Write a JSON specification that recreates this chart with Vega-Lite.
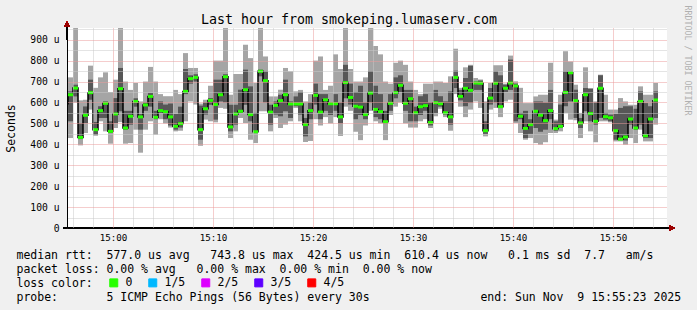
{
  "$schema": "https://vega.github.io/schema/vega-lite/v6.json",
  "width": 600,
  "height": 200,
  "autosize": {"type": "none"},
  "padding": {"left": 67, "top": 28, "right": 30, "bottom": 82},
  "background": "#f0f0f0",
  "view": {"fill": "#ffffff", "stroke": null},
  "config": {"font": "DejaVu Sans Mono"},
  "data": {"values": [
    {"start":"2025-11-09T14:55:00","end":"2025-11-09T14:55:30","min":430,"p2":500,"median":594,"p4":640,"max":720,"loss":"0"},
    {"start":"2025-11-09T14:55:30","end":"2025-11-09T14:56:00","min":430,"p2":510,"median":637,"p4":653,"max":720,"loss":"0"},
    {"start":"2025-11-09T14:56:00","end":"2025-11-09T14:56:30","min":600,"p2":629,"median":669,"p4":685,"max":956,"loss":"0"},
    {"start":"2025-11-09T14:56:30","end":"2025-11-09T14:57:00","min":395,"p2":425,"median":433,"p4":500,"max":610,"loss":"0"},
    {"start":"2025-11-09T14:57:00","end":"2025-11-09T14:57:30","min":454,"p2":502,"median":539,"p4":581,"max":613,"loss":"0"},
    {"start":"2025-11-09T14:57:30","end":"2025-11-09T14:58:00","min":566,"p2":613,"median":647,"p4":709,"max":776,"loss":"0"},
    {"start":"2025-11-09T14:58:00","end":"2025-11-09T14:58:30","min":441,"p2":446,"median":470,"p4":507,"max":670,"loss":"0"},
    {"start":"2025-11-09T14:58:30","end":"2025-11-09T14:59:00","min":510,"p2":526,"median":561,"p4":582,"max":720,"loss":"0"},
    {"start":"2025-11-09T14:59:00","end":"2025-11-09T14:59:30","min":462,"p2":526,"median":596,"p4":605,"max":744,"loss":"0"},
    {"start":"2025-11-09T14:59:30","end":"2025-11-09T15:00:00","min":403,"p2":454,"median":462,"p4":510,"max":650,"loss":"0"},
    {"start":"2025-11-09T15:00:00","end":"2025-11-09T15:00:30","min":478,"p2":502,"median":545,"p4":621,"max":709,"loss":"0"},
    {"start":"2025-11-09T15:00:30","end":"2025-11-09T15:01:00","min":506,"p2":558,"median":666,"p4":765,"max":956,"loss":"0"},
    {"start":"2025-11-09T15:01:00","end":"2025-11-09T15:01:30","min":403,"p2":470,"median":478,"p4":560,"max":700,"loss":"0"},
    {"start":"2025-11-09T15:01:30","end":"2025-11-09T15:02:00","min":406,"p2":494,"median":534,"p4":560,"max":660,"loss":"0"},
    {"start":"2025-11-09T15:02:00","end":"2025-11-09T15:02:30","min":470,"p2":580,"median":605,"p4":620,"max":693,"loss":"0"},
    {"start":"2025-11-09T15:02:30","end":"2025-11-09T15:03:00","min":360,"p2":470,"median":531,"p4":545,"max":605,"loss":"0"},
    {"start":"2025-11-09T15:03:00","end":"2025-11-09T15:03:30","min":470,"p2":560,"median":588,"p4":600,"max":700,"loss":"0"},
    {"start":"2025-11-09T15:03:30","end":"2025-11-09T15:04:00","min":510,"p2":580,"median":629,"p4":645,"max":770,"loss":"0"},
    {"start":"2025-11-09T15:04:00","end":"2025-11-09T15:04:30","min":446,"p2":520,"median":529,"p4":560,"max":700,"loss":"0"},
    {"start":"2025-11-09T15:04:30","end":"2025-11-09T15:05:00","min":520,"p2":550,"median":561,"p4":605,"max":640,"loss":"0"},
    {"start":"2025-11-09T15:05:00","end":"2025-11-09T15:05:30","min":500,"p2":520,"median":556,"p4":590,"max":630,"loss":"0"},
    {"start":"2025-11-09T15:05:30","end":"2025-11-09T15:06:00","min":480,"p2":490,"median":531,"p4":595,"max":630,"loss":"0"},
    {"start":"2025-11-09T15:06:00","end":"2025-11-09T15:06:30","min":462,"p2":470,"median":486,"p4":545,"max":660,"loss":"0"},
    {"start":"2025-11-09T15:06:30","end":"2025-11-09T15:07:00","min":465,"p2":480,"median":499,"p4":580,"max":640,"loss":"0"},
    {"start":"2025-11-09T15:07:00","end":"2025-11-09T15:07:30","min":510,"p2":640,"median":653,"p4":760,"max":836,"loss":"0"},
    {"start":"2025-11-09T15:07:30","end":"2025-11-09T15:08:00","min":605,"p2":690,"median":714,"p4":730,"max":765,"loss":"0"},
    {"start":"2025-11-09T15:08:00","end":"2025-11-09T15:08:30","min":590,"p2":700,"median":720,"p4":735,"max":765,"loss":"0"},
    {"start":"2025-11-09T15:08:30","end":"2025-11-09T15:09:00","min":393,"p2":422,"median":470,"p4":585,"max":595,"loss":"0"},
    {"start":"2025-11-09T15:09:00","end":"2025-11-09T15:09:30","min":518,"p2":542,"median":570,"p4":600,"max":613,"loss":"0"},
    {"start":"2025-11-09T15:09:30","end":"2025-11-09T15:10:00","min":510,"p2":589,"median":610,"p4":621,"max":680,"loss":"0"},
    {"start":"2025-11-09T15:10:00","end":"2025-11-09T15:10:30","min":505,"p2":518,"median":590,"p4":709,"max":800,"loss":"0"},
    {"start":"2025-11-09T15:10:30","end":"2025-11-09T15:11:00","min":574,"p2":605,"median":637,"p4":709,"max":800,"loss":"0"},
    {"start":"2025-11-09T15:11:00","end":"2025-11-09T15:11:30","min":570,"p2":600,"median":723,"p4":735,"max":956,"loss":"0"},
    {"start":"2025-11-09T15:11:30","end":"2025-11-09T15:12:00","min":430,"p2":462,"median":483,"p4":589,"max":637,"loss":"0"},
    {"start":"2025-11-09T15:12:00","end":"2025-11-09T15:12:30","min":462,"p2":494,"median":545,"p4":589,"max":736,"loss":"0"},
    {"start":"2025-11-09T15:12:30","end":"2025-11-09T15:13:00","min":526,"p2":550,"median":558,"p4":661,"max":736,"loss":"0"},
    {"start":"2025-11-09T15:13:00","end":"2025-11-09T15:13:30","min":502,"p2":589,"median":661,"p4":757,"max":876,"loss":"0"},
    {"start":"2025-11-09T15:13:30","end":"2025-11-09T15:14:00","min":422,"p2":510,"median":542,"p4":677,"max":812,"loss":"0"},
    {"start":"2025-11-09T15:14:00","end":"2025-11-09T15:14:30","min":406,"p2":454,"median":460,"p4":550,"max":693,"loss":"0"},
    {"start":"2025-11-09T15:14:30","end":"2025-11-09T15:15:00","min":558,"p2":725,"median":749,"p4":757,"max":956,"loss":"0"},
    {"start":"2025-11-09T15:15:00","end":"2025-11-09T15:15:30","min":558,"p2":600,"median":704,"p4":749,"max":820,"loss":"0"},
    {"start":"2025-11-09T15:15:30","end":"2025-11-09T15:16:00","min":462,"p2":494,"median":554,"p4":589,"max":629,"loss":"0"},
    {"start":"2025-11-09T15:16:00","end":"2025-11-09T15:16:30","min":526,"p2":542,"median":586,"p4":605,"max":629,"loss":"0"},
    {"start":"2025-11-09T15:16:30","end":"2025-11-09T15:17:00","min":478,"p2":534,"median":609,"p4":637,"max":661,"loss":"0"},
    {"start":"2025-11-09T15:17:00","end":"2025-11-09T15:17:30","min":494,"p2":558,"median":637,"p4":709,"max":765,"loss":"0"},
    {"start":"2025-11-09T15:17:30","end":"2025-11-09T15:18:00","min":510,"p2":526,"median":593,"p4":605,"max":749,"loss":"0"},
    {"start":"2025-11-09T15:18:00","end":"2025-11-09T15:18:30","min":574,"p2":582,"median":593,"p4":629,"max":653,"loss":"0"},
    {"start":"2025-11-09T15:18:30","end":"2025-11-09T15:19:00","min":510,"p2":542,"median":593,"p4":650,"max":660,"loss":"0"},
    {"start":"2025-11-09T15:19:00","end":"2025-11-09T15:19:30","min":411,"p2":438,"median":494,"p4":526,"max":605,"loss":"0"},
    {"start":"2025-11-09T15:19:30","end":"2025-11-09T15:20:00","min":416,"p2":520,"median":561,"p4":600,"max":640,"loss":"0"},
    {"start":"2025-11-09T15:20:00","end":"2025-11-09T15:20:30","min":520,"p2":590,"median":634,"p4":690,"max":800,"loss":"0"},
    {"start":"2025-11-09T15:20:30","end":"2025-11-09T15:21:00","min":490,"p2":520,"median":554,"p4":640,"max":820,"loss":"0"},
    {"start":"2025-11-09T15:21:00","end":"2025-11-09T15:21:30","min":530,"p2":560,"median":613,"p4":640,"max":660,"loss":"0"},
    {"start":"2025-11-09T15:21:30","end":"2025-11-09T15:22:00","min":500,"p2":540,"median":594,"p4":600,"max":680,"loss":"0"},
    {"start":"2025-11-09T15:22:00","end":"2025-11-09T15:22:30","min":530,"p2":560,"median":594,"p4":640,"max":830,"loss":"0"},
    {"start":"2025-11-09T15:22:30","end":"2025-11-09T15:23:00","min":440,"p2":500,"median":531,"p4":600,"max":760,"loss":"0"},
    {"start":"2025-11-09T15:23:00","end":"2025-11-09T15:23:30","min":580,"p2":620,"median":695,"p4":780,"max":956,"loss":"0"},
    {"start":"2025-11-09T15:23:30","end":"2025-11-09T15:24:00","min":560,"p2":590,"median":624,"p4":690,"max":760,"loss":"0"},
    {"start":"2025-11-09T15:24:00","end":"2025-11-09T15:24:30","min":460,"p2":520,"median":582,"p4":650,"max":700,"loss":"0"},
    {"start":"2025-11-09T15:24:30","end":"2025-11-09T15:25:00","min":420,"p2":540,"median":578,"p4":680,"max":700,"loss":"0"},
    {"start":"2025-11-09T15:25:00","end":"2025-11-09T15:25:30","min":490,"p2":520,"median":542,"p4":600,"max":720,"loss":"0"},
    {"start":"2025-11-09T15:25:30","end":"2025-11-09T15:26:00","min":560,"p2":600,"median":645,"p4":750,"max":956,"loss":"0"},
    {"start":"2025-11-09T15:26:00","end":"2025-11-09T15:26:30","min":510,"p2":530,"median":567,"p4":680,"max":870,"loss":"0"},
    {"start":"2025-11-09T15:26:30","end":"2025-11-09T15:27:00","min":500,"p2":520,"median":556,"p4":640,"max":830,"loss":"0"},
    {"start":"2025-11-09T15:27:00","end":"2025-11-09T15:27:30","min":420,"p2":500,"median":508,"p4":560,"max":700,"loss":"0"},
    {"start":"2025-11-09T15:27:30","end":"2025-11-09T15:28:00","min":540,"p2":560,"median":596,"p4":640,"max":690,"loss":"0"},
    {"start":"2025-11-09T15:28:00","end":"2025-11-09T15:28:30","min":580,"p2":620,"median":647,"p4":720,"max":790,"loss":"0"},
    {"start":"2025-11-09T15:28:30","end":"2025-11-09T15:29:00","min":600,"p2":650,"median":682,"p4":730,"max":800,"loss":"0"},
    {"start":"2025-11-09T15:29:00","end":"2025-11-09T15:29:30","min":500,"p2":560,"median":596,"p4":660,"max":780,"loss":"0"},
    {"start":"2025-11-09T15:29:30","end":"2025-11-09T15:30:00","min":480,"p2":510,"median":618,"p4":660,"max":700,"loss":"0"},
    {"start":"2025-11-09T15:30:00","end":"2025-11-09T15:30:30","min":480,"p2":510,"median":551,"p4":580,"max":660,"loss":"0"},
    {"start":"2025-11-09T15:30:30","end":"2025-11-09T15:31:00","min":510,"p2":540,"median":580,"p4":630,"max":640,"loss":"0"},
    {"start":"2025-11-09T15:31:00","end":"2025-11-09T15:31:30","min":520,"p2":560,"median":585,"p4":640,"max":690,"loss":"0"},
    {"start":"2025-11-09T15:31:30","end":"2025-11-09T15:32:00","min":478,"p2":490,"median":504,"p4":600,"max":690,"loss":"0"},
    {"start":"2025-11-09T15:32:00","end":"2025-11-09T15:32:30","min":534,"p2":550,"median":599,"p4":660,"max":700,"loss":"0"},
    {"start":"2025-11-09T15:32:30","end":"2025-11-09T15:33:00","min":570,"p2":580,"median":594,"p4":630,"max":700,"loss":"0"},
    {"start":"2025-11-09T15:33:00","end":"2025-11-09T15:33:30","min":530,"p2":542,"median":551,"p4":605,"max":693,"loss":"0"},
    {"start":"2025-11-09T15:33:30","end":"2025-11-09T15:34:00","min":465,"p2":494,"median":531,"p4":653,"max":725,"loss":"0"},
    {"start":"2025-11-09T15:34:00","end":"2025-11-09T15:34:30","min":640,"p2":669,"median":720,"p4":752,"max":857,"loss":"0"},
    {"start":"2025-11-09T15:34:30","end":"2025-11-09T15:35:00","min":580,"p2":610,"median":629,"p4":660,"max":670,"loss":"0"},
    {"start":"2025-11-09T15:35:00","end":"2025-11-09T15:35:30","min":530,"p2":582,"median":668,"p4":717,"max":768,"loss":"0"},
    {"start":"2025-11-09T15:35:30","end":"2025-11-09T15:36:00","min":566,"p2":598,"median":658,"p4":775,"max":780,"loss":"0"},
    {"start":"2025-11-09T15:36:00","end":"2025-11-09T15:36:30","min":605,"p2":660,"median":693,"p4":700,"max":717,"loss":"0"},
    {"start":"2025-11-09T15:36:30","end":"2025-11-09T15:37:00","min":574,"p2":660,"median":692,"p4":705,"max":710,"loss":"0"},
    {"start":"2025-11-09T15:37:00","end":"2025-11-09T15:37:30","min":438,"p2":450,"median":465,"p4":510,"max":605,"loss":"0"},
    {"start":"2025-11-09T15:37:30","end":"2025-11-09T15:38:00","min":566,"p2":590,"median":621,"p4":669,"max":693,"loss":"0"},
    {"start":"2025-11-09T15:38:00","end":"2025-11-09T15:38:30","min":574,"p2":600,"median":692,"p4":749,"max":778,"loss":"0"},
    {"start":"2025-11-09T15:38:30","end":"2025-11-09T15:39:00","min":530,"p2":574,"median":580,"p4":730,"max":778,"loss":"0"},
    {"start":"2025-11-09T15:39:00","end":"2025-11-09T15:39:30","min":605,"p2":650,"median":668,"p4":685,"max":690,"loss":"0"},
    {"start":"2025-11-09T15:39:30","end":"2025-11-09T15:40:00","min":613,"p2":660,"median":693,"p4":805,"max":824,"loss":"0"},
    {"start":"2025-11-09T15:40:00","end":"2025-11-09T15:40:30","min":502,"p2":510,"median":679,"p4":690,"max":701,"loss":"0"},
    {"start":"2025-11-09T15:40:30","end":"2025-11-09T15:41:00","min":454,"p2":520,"median":534,"p4":550,"max":670,"loss":"0"},
    {"start":"2025-11-09T15:41:00","end":"2025-11-09T15:41:30","min":422,"p2":430,"median":476,"p4":560,"max":597,"loss":"0"},
    {"start":"2025-11-09T15:41:30","end":"2025-11-09T15:42:00","min":430,"p2":450,"median":494,"p4":520,"max":597,"loss":"0"},
    {"start":"2025-11-09T15:42:00","end":"2025-11-09T15:42:30","min":406,"p2":478,"median":558,"p4":605,"max":629,"loss":"0"},
    {"start":"2025-11-09T15:42:30","end":"2025-11-09T15:43:00","min":398,"p2":460,"median":539,"p4":605,"max":637,"loss":"0"},
    {"start":"2025-11-09T15:43:00","end":"2025-11-09T15:43:30","min":410,"p2":470,"median":513,"p4":600,"max":637,"loss":"0"},
    {"start":"2025-11-09T15:43:30","end":"2025-11-09T15:44:00","min":454,"p2":520,"median":561,"p4":660,"max":790,"loss":"0"},
    {"start":"2025-11-09T15:44:00","end":"2025-11-09T15:44:30","min":454,"p2":465,"median":475,"p4":510,"max":518,"loss":"0"},
    {"start":"2025-11-09T15:44:30","end":"2025-11-09T15:45:00","min":462,"p2":478,"median":486,"p4":590,"max":637,"loss":"0"},
    {"start":"2025-11-09T15:45:00","end":"2025-11-09T15:45:30","min":550,"p2":582,"median":648,"p4":749,"max":845,"loss":"0"},
    {"start":"2025-11-09T15:45:30","end":"2025-11-09T15:46:00","min":518,"p2":605,"median":742,"p4":749,"max":796,"loss":"0"},
    {"start":"2025-11-09T15:46:00","end":"2025-11-09T15:46:30","min":515,"p2":526,"median":609,"p4":661,"max":685,"loss":"0"},
    {"start":"2025-11-09T15:46:30","end":"2025-11-09T15:47:00","min":430,"p2":478,"median":502,"p4":526,"max":550,"loss":"0"},
    {"start":"2025-11-09T15:47:00","end":"2025-11-09T15:47:30","min":510,"p2":558,"median":637,"p4":669,"max":768,"loss":"0"},
    {"start":"2025-11-09T15:47:30","end":"2025-11-09T15:48:00","min":462,"p2":510,"median":547,"p4":665,"max":669,"loss":"0"},
    {"start":"2025-11-09T15:48:00","end":"2025-11-09T15:48:30","min":410,"p2":494,"median":510,"p4":600,"max":605,"loss":"0"},
    {"start":"2025-11-09T15:48:30","end":"2025-11-09T15:49:00","min":510,"p2":526,"median":668,"p4":730,"max":733,"loss":"0"},
    {"start":"2025-11-09T15:49:00","end":"2025-11-09T15:49:30","min":510,"p2":518,"median":532,"p4":550,"max":637,"loss":"0"},
    {"start":"2025-11-09T15:49:30","end":"2025-11-09T15:50:00","min":505,"p2":510,"median":527,"p4":542,"max":566,"loss":"0"},
    {"start":"2025-11-09T15:50:00","end":"2025-11-09T15:50:30","min":414,"p2":422,"median":465,"p4":545,"max":566,"loss":"0"},
    {"start":"2025-11-09T15:50:30","end":"2025-11-09T15:51:00","min":414,"p2":420,"median":425,"p4":574,"max":621,"loss":"0"},
    {"start":"2025-11-09T15:51:00","end":"2025-11-09T15:51:30","min":398,"p2":418,"median":435,"p4":582,"max":605,"loss":"0"},
    {"start":"2025-11-09T15:51:30","end":"2025-11-09T15:52:00","min":430,"p2":494,"median":521,"p4":582,"max":589,"loss":"0"},
    {"start":"2025-11-09T15:52:00","end":"2025-11-09T15:52:30","min":406,"p2":470,"median":478,"p4":570,"max":589,"loss":"0"},
    {"start":"2025-11-09T15:52:30","end":"2025-11-09T15:53:00","min":470,"p2":494,"median":605,"p4":653,"max":677,"loss":"0"},
    {"start":"2025-11-09T15:53:00","end":"2025-11-09T15:53:30","min":414,"p2":430,"median":441,"p4":597,"max":637,"loss":"0"},
    {"start":"2025-11-09T15:53:30","end":"2025-11-09T15:54:00","min":414,"p2":430,"median":521,"p4":582,"max":637,"loss":"0"},
    {"start":"2025-11-09T15:54:00","end":"2025-11-09T15:54:30","min":494,"p2":526,"median":612,"p4":653,"max":693,"loss":"0"}
  ]},
  "layer": [
    {
      "mark": {"type": "bar", "color": "#a5a5a5", "clip": true},
      "encoding": {
        "x": {"field": "start", "type": "temporal",
          "scale": {"domain": [{"year": 2025, "month": 11, "date": 9, "hours": 14, "minutes": 55, "seconds": 24}, {"year": 2025, "month": 11, "date": 9, "hours": 15, "minutes": 55, "seconds": 24}]},
          "axis": {
            "orient": "bottom", "zindex": 1,
            "values": [
              {"year": 2025, "month": 11, "date": 9, "hours": 14, "minutes": 56}, {"year": 2025, "month": 11, "date": 9, "hours": 14, "minutes": 58},
              {"year": 2025, "month": 11, "date": 9, "hours": 15, "minutes": 0}, {"year": 2025, "month": 11, "date": 9, "hours": 15, "minutes": 2},
              {"year": 2025, "month": 11, "date": 9, "hours": 15, "minutes": 4}, {"year": 2025, "month": 11, "date": 9, "hours": 15, "minutes": 6},
              {"year": 2025, "month": 11, "date": 9, "hours": 15, "minutes": 8}, {"year": 2025, "month": 11, "date": 9, "hours": 15, "minutes": 10},
              {"year": 2025, "month": 11, "date": 9, "hours": 15, "minutes": 12}, {"year": 2025, "month": 11, "date": 9, "hours": 15, "minutes": 14},
              {"year": 2025, "month": 11, "date": 9, "hours": 15, "minutes": 16}, {"year": 2025, "month": 11, "date": 9, "hours": 15, "minutes": 18},
              {"year": 2025, "month": 11, "date": 9, "hours": 15, "minutes": 20}, {"year": 2025, "month": 11, "date": 9, "hours": 15, "minutes": 22},
              {"year": 2025, "month": 11, "date": 9, "hours": 15, "minutes": 24}, {"year": 2025, "month": 11, "date": 9, "hours": 15, "minutes": 26},
              {"year": 2025, "month": 11, "date": 9, "hours": 15, "minutes": 28}, {"year": 2025, "month": 11, "date": 9, "hours": 15, "minutes": 30},
              {"year": 2025, "month": 11, "date": 9, "hours": 15, "minutes": 32}, {"year": 2025, "month": 11, "date": 9, "hours": 15, "minutes": 34},
              {"year": 2025, "month": 11, "date": 9, "hours": 15, "minutes": 36}, {"year": 2025, "month": 11, "date": 9, "hours": 15, "minutes": 38},
              {"year": 2025, "month": 11, "date": 9, "hours": 15, "minutes": 40}, {"year": 2025, "month": 11, "date": 9, "hours": 15, "minutes": 42},
              {"year": 2025, "month": 11, "date": 9, "hours": 15, "minutes": 44}, {"year": 2025, "month": 11, "date": 9, "hours": 15, "minutes": 46},
              {"year": 2025, "month": 11, "date": 9, "hours": 15, "minutes": 48}, {"year": 2025, "month": 11, "date": 9, "hours": 15, "minutes": 50},
              {"year": 2025, "month": 11, "date": 9, "hours": 15, "minutes": 52}, {"year": 2025, "month": 11, "date": 9, "hours": 15, "minutes": 54}
            ],
            "labelExpr": "minutes(datum.value) % 10 == 0 ? timeFormat(datum.value, '%H:%M') : ''",
            "labelOverlap": false, "labelFlush": false,
            "labelFontSize": 9.2, "labelColor": "#000000", "labelPadding": 5,
            "ticks": false,
            "grid": true,
            "gridColor": {"condition": {"test": "minutes(datum.value) % 10 == 0", "value": "#eb9a9a"}, "value": "#c8c8c8"},
            "gridDash": [1, 1],
            "domainColor": "#000000",
            "title": [
              "median rtt:\u00a0\u00a0577.0\u00a0us\u00a0avg\u00a0\u00a0\u00a0743.8\u00a0us\u00a0max\u00a0\u00a0424.5\u00a0us\u00a0min\u00a0\u00a0610.4\u00a0us\u00a0now\u00a0\u00a0\u00a00.1\u00a0ms\u00a0sd\u00a0\u00a07.7\u00a0\u00a0\u00a0am/s",
              "packet loss:\u00a00.00\u00a0%\u00a0avg\u00a0\u00a0\u00a00.00\u00a0%\u00a0max\u00a0\u00a00.00\u00a0%\u00a0min\u00a0\u00a00.00\u00a0%\u00a0now",
              "loss color:",
              "probe:\u00a0\u00a0\u00a0\u00a0\u00a0\u00a0\u00a05\u00a0ICMP\u00a0Echo\u00a0Pings\u00a0(56\u00a0Bytes)\u00a0every\u00a030s\u00a0\u00a0\u00a0\u00a0\u00a0\u00a0\u00a0\u00a0\u00a0\u00a0\u00a0\u00a0\u00a0\u00a0\u00a0\u00a0end:\u00a0Sun\u00a0Nov\u00a0\u00a09\u00a015:55:23\u00a02025"
            ],
            "titleX": -51, "titleY": 30, "titleAlign": "left", "titleAnchor": "start", "titleBaseline": "alphabetic",
            "titleFontSize": 11.5, "titleFontWeight": "normal", "titleColor": "#000000", "titleLineHeight": 14
          }
        },
        "x2": {"field": "end"},
        "y": {"field": "min", "type": "quantitative",
          "scale": {"domain": [0, 956], "nice": false, "zero": true},
          "axis": {
            "orient": "left", "zindex": 1,
            "values": [0, 50, 100, 150, 200, 250, 300, 350, 400, 450, 500, 550, 600, 650, 700, 750, 800, 850, 900, 950],
            "labelExpr": "datum.value % 100 == 0 ? (datum.value == 0 ? '0' : datum.value + ' u') : ''",
            "labelFontSize": 9.7, "labelColor": "#000000", "labelPadding": 8, "labelOverlap": false, "labelFlush": false,
            "ticks": false,
            "grid": true,
            "gridColor": {"condition": {"test": "datum.value % 100 == 0", "value": "#eb9a9a"}, "value": "#c8c8c8"},
            "gridDash": [1, 1],
            "domainColor": "#000000",
            "title": "Seconds", "titleX": -56, "titleY": 100, "titleAngle": -90, "titleAlign": "center", "titleBaseline": "middle",
            "titleFontSize": 11.5, "titleFontWeight": "normal", "titleColor": "#000000"
          }
        },
        "y2": {"field": "max"}
      }
    },
    {
      "mark": {"type": "bar", "color": "#575757", "clip": true},
      "encoding": {
        "x": {"field": "start", "type": "temporal",
          "axis": {"orient": "top", "labels": false, "ticks": false, "domain": false, "grid": false,
            "title": "Last hour from smokeping.lumaserv.com", "titleX": 281.5, "titleY": -4.5, "titleAlign": "center", "titleBaseline": "alphabetic",
            "titleFontSize": 13.3, "titleFontWeight": "normal", "titleColor": "#000000"}},
        "x2": {"field": "end"},
        "y": {"field": "p2", "type": "quantitative",
          "axis": {"orient": "right", "labels": false, "ticks": false, "domain": false, "grid": false,
            "title": "RRDTOOL / TOBI OETIKER", "titleAngle": 90, "titleX": 19, "titleY": -23, "titleAlign": "left", "titleBaseline": "middle",
            "titleFontSize": 8.3, "titleFontWeight": "normal", "titleColor": "#b0b0b0"}},
        "y2": {"field": "p4"}
      }
    },
    {
      "mark": {"type": "line", "color": "#000000", "strokeWidth": 1.5, "interpolate": "step-after", "clip": true},
      "encoding": {
        "x": {"field": "start", "type": "temporal", "axis": null},
        "y": {"field": "median", "type": "quantitative", "axis": null}
      }
    },
    {
      "mark": {"type": "rule", "strokeWidth": 3, "clip": true},
      "encoding": {
        "x": {"field": "start", "type": "temporal", "axis": null},
        "x2": {"field": "end"},
        "y": {"field": "median", "type": "quantitative", "axis": null},
        "color": {"field": "loss", "type": "nominal",
          "scale": {"domain": ["0", "1/5", "2/5", "3/5", "4/5"], "range": ["#26ff00", "#00b8ff", "#dd00ff", "#5e00ff", "#ff0000"]},
          "legend": {"orient": "none", "legendX": 41, "legendY": 249, "direction": "horizontal", "title": null,
            "symbolType": "square", "symbolSize": 64, "symbolStrokeWidth": 1, "symbolOpacity": 1,
            "labelFontSize": 11.5, "labelColor": "#000000", "labelOffset": 6, "columnPadding": 13,
            "encode": {"symbols": {"update": {"fill": {"scale": "color", "field": "value"}, "stroke": {"value": "#000000"}}}}}}
      }
    },
    {
      "mark": {"type": "rule", "color": "#000000", "strokeWidth": 1},
      "encoding": {
        "x": {"datum": {"year": 2025, "month": 11, "date": 9, "hours": 14, "minutes": 55, "seconds": 0}, "type": "temporal", "axis": null},
        "x2": {"datum": {"year": 2025, "month": 11, "date": 9, "hours": 15, "minutes": 55, "seconds": 48}},
        "y": {"datum": 0, "type": "quantitative", "axis": null}
      }
    },
    {
      "mark": {"type": "rule", "color": "#000000", "strokeWidth": 1},
      "encoding": {
        "x": {"datum": {"year": 2025, "month": 11, "date": 9, "hours": 14, "minutes": 55, "seconds": 24}, "type": "temporal", "axis": null},
        "y": {"datum": 900, "type": "quantitative", "axis": null},
        "y2": {"datum": 980}
      }
    },
    {
      "mark": {"type": "point", "shape": "triangle-up", "filled": true, "size": 30, "color": "#9c0000", "opacity": 1},
      "encoding": {
        "x": {"datum": {"year": 2025, "month": 11, "date": 9, "hours": 14, "minutes": 55, "seconds": 24}, "type": "temporal", "axis": null},
        "y": {"datum": 974, "type": "quantitative", "axis": null}
      }
    },
    {
      "mark": {"type": "point", "shape": "triangle-right", "filled": true, "size": 30, "color": "#9c0000", "opacity": 1},
      "encoding": {
        "x": {"datum": {"year": 2025, "month": 11, "date": 9, "hours": 15, "minutes": 55, "seconds": 54}, "type": "temporal", "axis": null},
        "y": {"datum": 0, "type": "quantitative", "axis": null}
      }
    }
  ],
  "resolve": {"axis": {"x": "independent", "y": "independent"}}
}
